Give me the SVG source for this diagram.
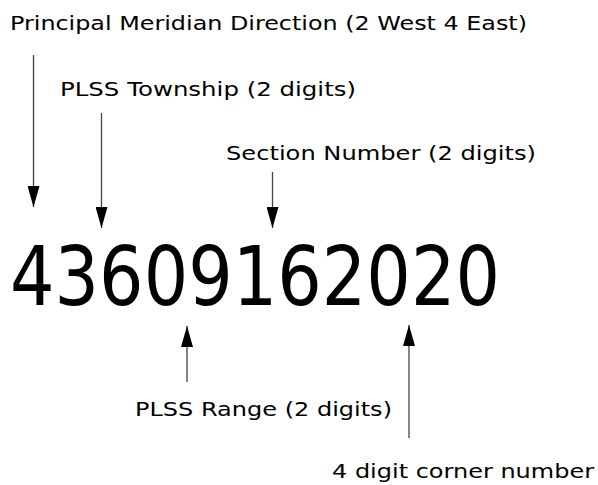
<svg xmlns="http://www.w3.org/2000/svg" width="598" height="485" viewBox="0 0 598 485">
<style>
text{font-family:"DejaVu Sans","Verdana",sans-serif;fill:#000}
.lbl{font-size:20px}
.num{font-size:82px}
.ln{stroke:#444;stroke-width:1.3;fill:none}
</style>
<defs>
<marker id="ah" viewBox="0 0 21 12" refX="21" refY="6" markerWidth="21" markerHeight="12" markerUnits="userSpaceOnUse" orient="auto">
<path d="M0,0 L21,6 L0,12 Z" fill="#000"/>
</marker>
</defs>
<rect width="598" height="485" fill="#fff"/>
<g id="meridian"><text class="lbl" x="10" y="30" textLength="517" lengthAdjust="spacingAndGlyphs">Principal Meridian Direction (2 West 4 East)</text></g>
<g id="township"><text class="lbl" x="60" y="96" textLength="296" lengthAdjust="spacingAndGlyphs">PLSS Township (2 digits)</text></g>
<g id="section"><text class="lbl" x="226" y="160" textLength="310" lengthAdjust="spacingAndGlyphs">Section Number (2 digits)</text></g>
<g id="number"><text class="num" x="10" y="305" textLength="490" lengthAdjust="spacingAndGlyphs">43609162020</text></g>
<g id="range"><text class="lbl" x="135" y="416" textLength="257" lengthAdjust="spacingAndGlyphs">PLSS Range (2 digits)</text></g>
<g id="corner"><text class="lbl" x="332" y="478" textLength="262" lengthAdjust="spacingAndGlyphs">4 digit corner number</text></g>
<g id="connectors">
<line class="ln" x1="33.5" y1="55" x2="33.5" y2="207" marker-end="url(#ah)"/>
<line class="ln" x1="101.5" y1="113" x2="101.5" y2="228" marker-end="url(#ah)"/>
<line class="ln" x1="272.5" y1="172" x2="272.5" y2="228" marker-end="url(#ah)"/>
<line class="ln" x1="187" y1="382" x2="187" y2="326" marker-end="url(#ah)"/>
<line class="ln" x1="409" y1="438" x2="409" y2="325" marker-end="url(#ah)"/>
</g>
</svg>
